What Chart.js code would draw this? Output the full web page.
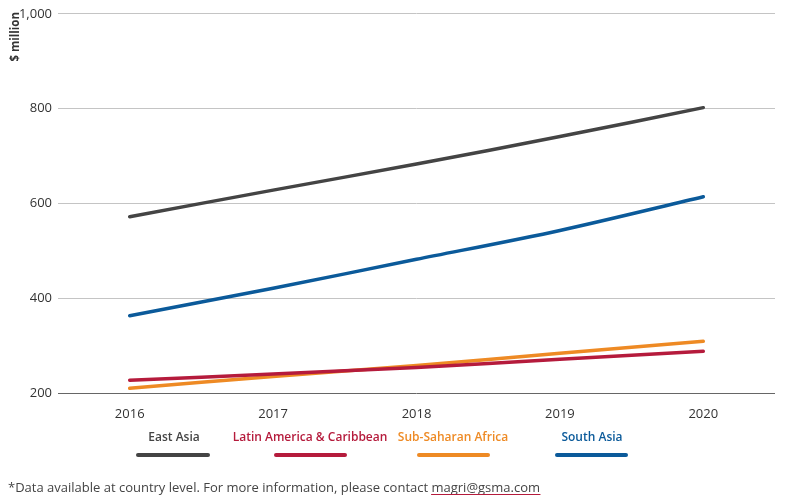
<!DOCTYPE html>
<html>
<head>
<meta charset="utf-8">
<script src="https://cdn.jsdelivr.net/npm/chart.js@4/dist/chart.umd.min.js"></script>
<style>
  html, body { margin: 0; padding: 0; background: #fff; }
  #wrap { position: relative; width: 788px; height: 496px; }
</style>
</head>
<body>
<div id="wrap"><canvas id="chart" width="788" height="496"></canvas></div>
<script>
// Data ($ million)
const years = ['2016', '2017', '2018', '2019', '2020'];
const eastAsia = [572, 628, 683, 741, 802];
const southAsia = [363, 421, 482, 543, 614];
const latinAmerica = [227, 240, 254, 271, 288];
const subSaharan = [210, 235, 258, 284, 309];
const yTicks = [200, 400, 600, 800, 1000];

const seriesNames = ['East Asia', 'Latin America & Caribbean', 'Sub-Saharan Africa', 'South Asia'];
const seriesColors = ['#444444', '#b51b3c', '#ee8a24', '#0b5a9a'];

const FONT = "'Open Sans', Lato, sans-serif";

// legend + axis title + footnote, drawn on the canvas
const extras = {
  id: 'extras',
  afterDraw(chart) {
    const ctx = chart.ctx;
    ctx.save();

    // y axis title, rotated, reading upwards near the top
    ctx.translate(16, 11);
    ctx.rotate(-Math.PI / 2);
    ctx.font = "bold 11.5px " + FONT;
    ctx.fillStyle = '#333';
    ctx.textAlign = 'right';
    ctx.textBaseline = 'middle';
    ctx.fillText('$ million', -1, 0);
    ctx.setTransform(1, 0, 0, 1, 0, 0);

    // legend: label with a thick stroke under it
    const textX = [174, 310, 453, 592];
    const lineX = [[138, 208], [276, 345], [419, 488], [557, 626]];
    seriesNames.forEach((name, i) => {
      ctx.font = "600 12px " + FONT;
      ctx.fillStyle = seriesColors[i];
      ctx.textAlign = 'center';
      ctx.textBaseline = 'middle';
      ctx.fillText(name, textX[i], 438);
      ctx.strokeStyle = seriesColors[i];
      ctx.lineWidth = 4;
      ctx.lineCap = 'round';
      ctx.beginPath();
      ctx.moveTo(lineX[i][0], 455);
      ctx.lineTo(lineX[i][1], 455);
      ctx.stroke();
    });

    // footnote
    ctx.font = "13px " + FONT;
    ctx.fillStyle = '#444';
    ctx.textAlign = 'left';
    ctx.textBaseline = 'alphabetic';
    const note = '*Data available at country level. For more information, please contact ';
    ctx.fillText(note, 8, 492);
    const w = ctx.measureText(note).width;
    const mail = 'magri@gsma.com';
    ctx.fillText(mail, 8 + w, 492);
    const mw = ctx.measureText(mail).width;
    ctx.strokeStyle = '#b51b3c';
    ctx.lineWidth = 1;
    ctx.beginPath();
    ctx.moveTo(8 + w, 494.5);
    ctx.lineTo(8 + w + mw, 494.5);
    ctx.stroke();

    ctx.restore();
  }
};

const makeSet = (i, data) => ({
  label: seriesNames[i],
  data: data,
  borderColor: seriesColors[i],
  backgroundColor: seriesColors[i],
  borderWidth: 3.5,
  borderCapStyle: 'round',
  pointRadius: 0,
  tension: 0.3,
  fill: false
});

new Chart(document.getElementById('chart'), {
  type: 'line',
  data: {
    labels: years,
    datasets: [
      makeSet(0, eastAsia),
      makeSet(3, southAsia),
      makeSet(1, latinAmerica),
      makeSet(2, subSaharan)
    ]
  },
  options: {
    responsive: false,
    animation: false,
    layout: { padding: { top: 10, right: 13, bottom: 73, left: 0 } },
    plugins: { legend: { display: false }, tooltip: { enabled: false } },
    scales: {
      x: {
        offset: true,
        grid: { display: false },
        border: { display: false },
        ticks: { color: '#333', font: { family: FONT, size: 13 }, padding: 5 },
        afterFit: s => { s.height = 30; }
      },
      y: {
        min: 200,
        max: 1000,
        afterBuildTicks: s => { s.ticks = yTicks.map(v => ({ value: v })); },
        grid: {
          color: c => c.tick && c.tick.value === 200 ? '#666' : '#c4c4c4',
          lineWidth: 1,
          drawTicks: false
        },
        border: { display: false },
        ticks: {
          color: '#333',
          font: { family: FONT, size: 13 },
          padding: 6,
          callback: v => v.toLocaleString('en-US')
        },
        afterFit: s => { s.width = 58; }
      }
    }
  },
  plugins: [extras]
});
</script>
</body>
</html>
